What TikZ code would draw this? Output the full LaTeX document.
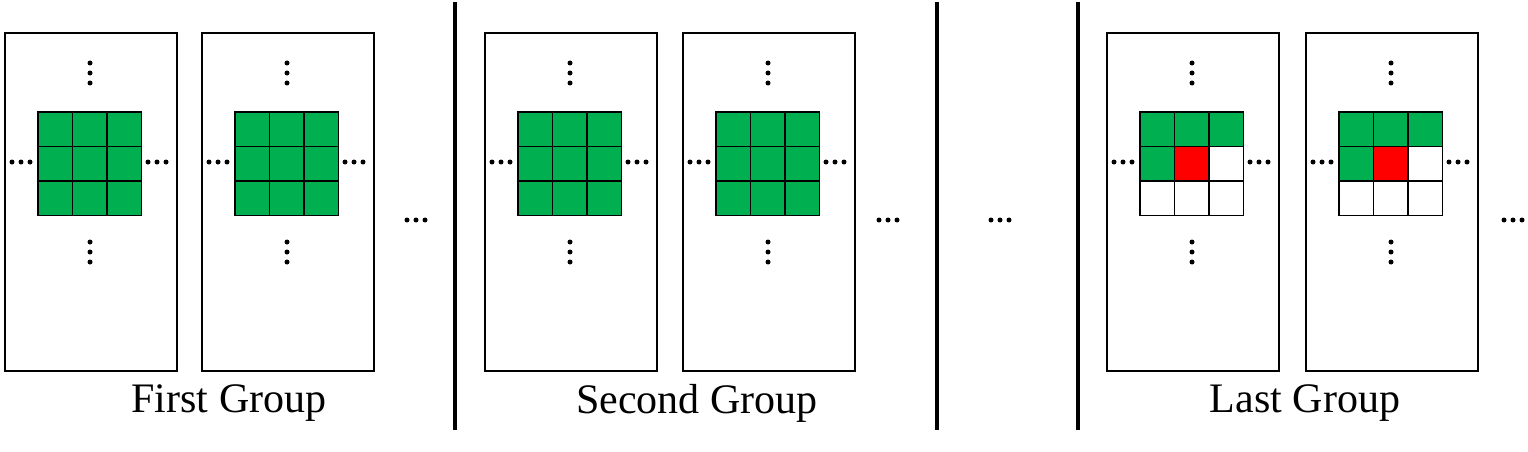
\documentclass[tikz,border=0pt]{standalone}
\usepackage{fontspec}
\setmainfont{Liberation Serif}
\definecolor{gr}{RGB}{0,176,80}
\begin{document}
\begin{tikzpicture}[x=1pt,y=-1pt,
  panel/.style={draw,line width=1.6pt,minimum width=172pt,minimum height=338pt,inner sep=0pt,anchor=north west},
  cell/.style={draw,line width=1.8pt,minimum size=34.5pt,inner sep=0pt,anchor=north west},
  dotc/.style={fill=black,circle,inner sep=0pt,minimum size=5pt},
  divider/.style={line width=3.5pt},
  lbl/.style={font=\fontsize{42}{42}\selectfont}]
\useasboundingbox (0,0) rectangle (1528,452);
\newcommand{\hdots}[2]{\node[dotc] at (#1-9,#2){};\node[dotc] at (#1,#2){};\node[dotc] at (#1+9,#2){};}
\newcommand{\vdotsc}[2]{\node[dotc] at (#1,#2-10){};\node[dotc] at (#1,#2){};\node[dotc] at (#1,#2+10){};}
% #1 name, #2 x, #3 last?
\newcommand{\mypanel}[3]{%
  \node[panel] (#1) at (#2,32) {};
  \foreach \r in {0,1,2}{\foreach \c in {0,1,2}{%
    \pgfmathsetmacro{\fc}{ifthenelse(#3==0,1,ifthenelse(\r==0,1,ifthenelse(\r==1,ifthenelse(\c==0,1,ifthenelse(\c==1,2,0)),0)))}%
    \ifcase\fc\relax
      \node[cell,fill=white] at (#2+33+\c*34.5,111+\r*34.5) {};
    \or
      \node[cell,fill=gr] at (#2+33+\c*34.5,111+\r*34.5) {};
    \else
      \node[cell,fill=red] at (#2+33+\c*34.5,111+\r*34.5) {};
    \fi}}
  \vdotsc{#2+86}{73}\vdotsc{#2+86}{252}
  \hdots{#2+17}{162}\hdots{#2+153}{162}}
\mypanel{p1}{4}{0}
\mypanel{p2}{201}{0}
\mypanel{p3}{484}{0}
\mypanel{p4}{682}{0}
\mypanel{p5}{1106}{1}
\mypanel{p6}{1305}{1}
\hdots{416}{220}\hdots{888}{220}\hdots{1000}{220}\hdots{1513}{220}
\coordinate (d1a) at (455,2); \coordinate (d1b) at (455,430);
\coordinate (d2a) at (937,2); \coordinate (d2b) at (937,430);
\coordinate (d3a) at (1078,2); \coordinate (d3b) at (1078,430);
\draw[divider] (d1a)--(d1b); \draw[divider] (d2a)--(d2b); \draw[divider] (d3a)--(d3b);
\node[lbl] (l1) at (229,403) {First Group};
\node[lbl] (l2) at (697,403) {Second Group};
\node[lbl] (l3) at (1305,403) {Last Group};
\end{tikzpicture}
\end{document}
